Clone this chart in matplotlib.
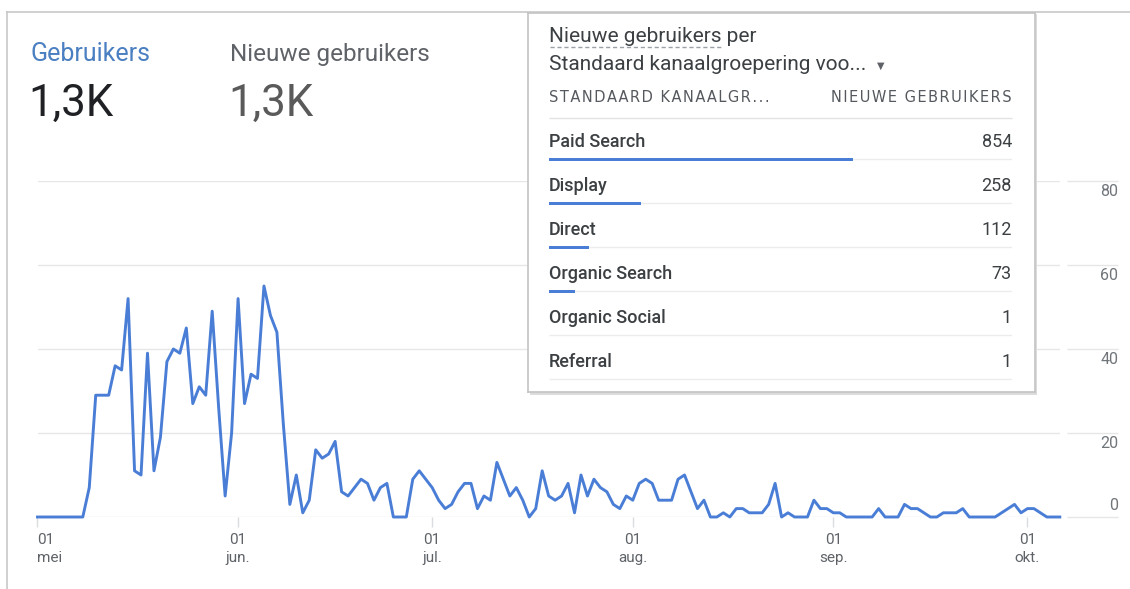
import numpy as np
import pandas as pd
import matplotlib
matplotlib.use("Agg")
import matplotlib.pyplot as plt
from matplotlib.lines import Line2D
from matplotlib.patches import Rectangle
from matplotlib.transforms import offset_copy

plt.rcParams['font.family'] = ['Roboto', 'DejaVu Sans']

# daily users, 1 May - 6 Oct
users = [0, 0, 0, 0, 0, 0, 0, 0, 7, 29, 29, 29, 36, 35, 52, 11, 10, 39, 11, 19,
         37, 40, 39, 45, 27, 31, 29, 49, 26, 5, 20, 52, 27, 34, 33, 55, 48, 44, 22, 3,
         10, 1, 4, 16, 14, 15, 18, 6, 5, 7, 9, 8, 4, 7, 8, 0, 0, 0, 9, 11,
         9, 7, 4, 2, 3, 6, 8, 8, 2, 5, 4, 13, 9, 5, 7, 4, 0, 2, 11, 5,
         4, 5, 8, 1, 10, 5, 9, 7, 6, 3, 2, 5, 4, 8, 9, 8, 4, 4, 4, 9,
         10, 6, 2, 4, 0, 0, 1, 0, 2, 2, 1, 1, 1, 3, 8, 0, 1, 0, 0, 0,
         4, 2, 2, 1, 1, 0, 0, 0, 0, 0, 2, 0, 0, 0, 3, 2, 2, 1, 0, 0,
         1, 1, 1, 2, 0, 0, 0, 0, 0, 1, 2, 3, 1, 2, 2, 1, 0, 0, 0]
dates = pd.date_range("2023-05-01", periods=len(users), freq="D")

y_ticks = [0, 20, 40, 60, 80]
month_starts = pd.date_range("2023-05-01", "2023-10-01", freq="MS")
month_names = ["mei", "jun.", "jul.", "aug.", "sep.", "okt."]

channels = ["Paid Search", "Display", "Direct", "Organic Search", "Organic Social", "Referral"]
new_users = [854, 258, 112, 73, 1, 1]

BLUE = "#4a7ed6"
GRID = "#e6e6e6"
DARK = "#3c4043"
GREY = "#5f6368"

W, H = 1130, 589
fig = plt.figure(figsize=(W / 100, H / 100), dpi=100)

def fx(x):
    return x / W

def fy(y):
    return 1 - y / H

def spaced(s):
    # GA table headers use letter spacing; fake it with hair spaces
    return "\u200a".join(s)

# --- line chart ---
ax = fig.add_axes([fx(37.5), fy(517), (1059.8 - 37.5) / W, (517 - 181) / H], zorder=1)
for v in y_ticks:
    ax.axhline(v, color=GRID, lw=1, zorder=0)
ax.hlines(y_ticks, 1.007, 1.057, transform=ax.get_yaxis_transform(),
          colors=GRID, lw=1, clip_on=False)
ax.plot(dates, users, color=BLUE, lw=2.1, clip_on=False)
ax.set_xlim(dates[0], dates[-1])
ax.set_ylim(0, 80)
for s in ax.spines.values():
    s.set_visible(False)
ax.set_yticks([])
ax.set_xticks(month_starts)
ax.set_xticklabels([f"01\n{m}" for m in month_names], linespacing=1.35)
ax.tick_params(axis="x", length=7, width=1, color="#dadce0", labelsize=11,
               labelcolor=GREY, pad=4.5)
ax.get_xticklabels()[0].set_horizontalalignment("left")

for v in y_ticks:
    off = 12 if v == 0 else -11
    tr = offset_copy(ax.get_yaxis_transform(), fig=fig, y=off, units="dots")
    ax.text(1.057, v, str(v), transform=tr, ha="right", va="center",
            fontsize=11.5, color="#70757a", clip_on=False)

# --- frame ---
fig.add_artist(Line2D([fx(7), fx(7)], [fy(12), 0], color="#c8c8c8", lw=1.2))
fig.add_artist(Line2D([fx(7), 1], [fy(12), fy(12)], color="#c8c8c8", lw=1.2))

# --- headline metrics ---
fig.text(fx(30), fy(61), "Gebruikers", fontsize=18, color="#4a7fc1", va="baseline")
fig.text(fx(28), fy(116), "1,3K", fontsize=31.5, color="#202124", va="baseline")
fig.text(fx(230), fy(61), "Nieuwe gebruikers", fontsize=17.5, color=GREY, va="baseline")
fig.text(fx(228), fy(116), "1,3K", fontsize=31.5, color="#5a5a5a", va="baseline")

# --- overlay card ---
fig.add_artist(Rectangle((fx(530), fy(395)), (1037 - 530) / W, (395 - 14) / H,
                         transform=fig.transFigure, fc="#dcdcdc", ec="none", zorder=4))
card = fig.add_axes([fx(528), fy(392), (1035 - 528) / W, (392 - 13) / H], zorder=5)
card.set_xticks([])
card.set_yticks([])
for s in card.spines.values():
    s.set_color("#c4c4c4")
    s.set_linewidth(1.2)

fig.text(fx(549), fy(42), "Nieuwe gebruikers per", fontsize=15, color=DARK,
         va="baseline", zorder=7)
fig.add_artist(Line2D([fx(550), fx(722)], [fy(47), fy(47)], color="#9aa0a6",
                      lw=1, ls=(0, (3, 2)), zorder=7))
fig.text(fx(549), fy(70), "Standaard kanaalgroepering voo...", fontsize=15,
         color=DARK, va="baseline", zorder=7)
fig.text(fx(881), fy(66), "▼", fontsize=7, color=GREY, family="DejaVu Sans",
         ha="center", va="center", zorder=7)
fig.text(fx(549), fy(98), spaced("STANDAARD KANAALGR..."), fontsize=10.5, color="#55595e",
         family="DejaVu Sans", va="center", zorder=7)
fig.text(fx(1012), fy(98), spaced("NIEUWE GEBRUIKERS"), fontsize=10.5, color="#55595e",
         family="DejaVu Sans", ha="right", va="center", zorder=7)

tab = fig.add_axes([fx(549), fy(383), (1012 - 549) / W, (383 - 119) / H], zorder=6)
tab.set_xlim(0, 1)
tab.set_ylim(len(channels) - 0.5, -0.5)
tab.axis("off")
rows = np.arange(len(channels))
share = np.array(new_users) / sum(new_users)
tab.hlines(-0.53, 0, 1, color="#e3e3e3", lw=1, clip_on=False)
tab.hlines(rows + 0.42, 0, 1, color="#ececec", lw=1, zorder=1)
tab.barh(rows + 0.42, share, height=0.075, color=BLUE, lw=0, zorder=3)
for i, (name, val) in enumerate(zip(channels, new_users)):
    tab.text(0, i + 0.03, name, ha="left", va="center", fontsize=13, weight="medium", color=DARK)
    tab.text(1, i + 0.03, str(val), ha="right", va="center", fontsize=13, color=DARK)

fig.savefig("out.png", dpi=100, facecolor="white")
